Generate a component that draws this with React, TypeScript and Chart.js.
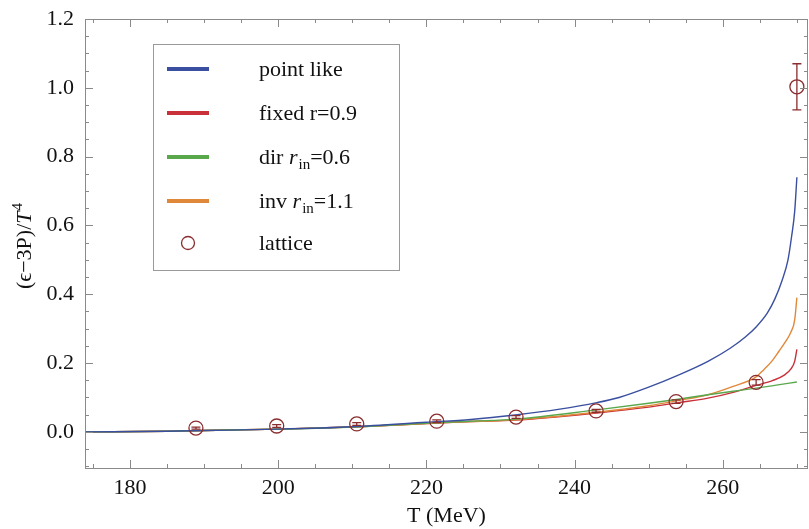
import React, { useEffect, useRef } from 'react';
import { Chart, registerables } from 'chart.js';

Chart.register(...registerables);

// ---- axis ranges & ticks ----
const X_MIN = 173.93;
const X_MAX = 271.5;
const Y_MIN = -0.105;
const Y_MAX = 1.2;
const xMajorTicks = [180, 200, 220, 240, 260];
const yMajorTicks = [0, 0.2, 0.4, 0.6, 0.8, 1.0, 1.2];
const xMinorStep = 5;
const yMinorStep = 0.05;

// ---- series ----
const tPointLike = [174, 185, 190, 200, 210, 220, 226, 232, 238, 243, 246, 250, 254, 258, 261, 263, 264.5, 266, 267, 268, 268.8, 269.3, 269.7, 270];
const pointLike = [0, 0.002, 0.004, 0.008, 0.015, 0.028, 0.036, 0.049, 0.066, 0.085, 0.1, 0.13, 0.165, 0.205, 0.243, 0.275, 0.305, 0.345, 0.385, 0.44, 0.5, 0.57, 0.64, 0.74];

const tFixed = [174, 185, 190, 200, 210, 220, 226, 232, 243, 250, 254, 258, 261.4, 264.5, 266.7, 268.3, 269.2, 269.7, 270];
const fixedR = [0, 0.002, 0.004, 0.008, 0.014, 0.024, 0.03, 0.034, 0.055, 0.072, 0.085, 0.098, 0.115, 0.135, 0.149, 0.165, 0.183, 0.205, 0.24];

const tDir = [174, 185, 190, 200, 210, 220, 226, 232, 243, 250, 254, 258, 261.4, 264.5, 267, 270];
const dirR = [0, 0.002, 0.004, 0.008, 0.014, 0.025, 0.031, 0.037, 0.064, 0.083, 0.095, 0.108, 0.118, 0.127, 0.135, 0.145];

const tInv = [174, 185, 190, 200, 210, 220, 226, 232, 243, 250, 254, 258, 261.4, 264.5, 265.5, 266.6, 267.6, 268.4, 269.2, 269.7, 270];
const invR = [0, 0.002, 0.004, 0.008, 0.014, 0.024, 0.03, 0.035, 0.057, 0.076, 0.091, 0.108, 0.132, 0.16, 0.18, 0.205, 0.235, 0.26, 0.29, 0.325, 0.39];

const latticeT = [188.9, 199.8, 210.6, 221.4, 232.1, 242.9, 253.7, 264.5, 270.0];
const latticeV = [0.011, 0.017, 0.023, 0.031, 0.043, 0.061, 0.088, 0.144, 1.003];
const latticeErr = [0.003, 0.004, 0.004, 0.004, 0.004, 0.004, 0.005, 0.008, 0.067];

const seriesNames = ['point like', 'fixed r=0.9', 'dir', 'inv', 'lattice'];
const colors = {
  blue: '#3a4f9f',
  red: '#c8303a',
  green: '#5aa84c',
  orange: '#e0883a',
  lattice: '#8b2c2e',
  frame: '#8a8a8a',
  text: '#111111',
};

const SERIF = '"Liberation Serif", "Times New Roman", "DejaVu Serif", serif';

const toXY = (xs: number[], ys: number[]) => xs.map((x, i) => ({ x, y: ys[i] }));

const framePlugin = {
  id: 'frameTicks',
  afterDraw(chart: any) {
    const { ctx, chartArea, scales } = chart;
    const { left, right, top, bottom } = chartArea;
    const xs = scales.x;
    const ys = scales.y;
    ctx.save();
    ctx.strokeStyle = colors.frame;
    ctx.lineWidth = 1;
    ctx.strokeRect(left + 0.5, top + 0.5, right - left - 1, bottom - top);
    ctx.beginPath();
    // x ticks (bottom & top)
    for (let v = Math.ceil(X_MIN / xMinorStep) * xMinorStep; v <= X_MAX; v += xMinorStep) {
      const px = Math.round(xs.getPixelForValue(v)) + 0.5;
      const major = Math.abs(v % 20) < 1e-6;
      const len = major ? 8 : 4;
      ctx.moveTo(px, bottom);
      ctx.lineTo(px, bottom - len);
      ctx.moveTo(px, top);
      ctx.lineTo(px, top + len);
    }
    // y ticks (left & right)
    for (let i = Math.ceil(Y_MIN / yMinorStep); i * yMinorStep <= Y_MAX + 1e-9; i++) {
      const v = i * yMinorStep;
      const py = Math.round(ys.getPixelForValue(v)) + 0.5;
      const major = i % 4 === 0;
      const len = major ? 8 : 4;
      ctx.moveTo(left, py);
      ctx.lineTo(left + len, py);
      ctx.moveTo(right, py);
      ctx.lineTo(right - len, py);
    }
    ctx.stroke();

    // axis titles
    ctx.fillStyle = colors.text;
    ctx.font = `22px ${SERIF}`;
    ctx.textAlign = 'center';
    ctx.textBaseline = 'alphabetic';
    ctx.fillText('T (MeV)', (left + right) / 2, 522);

    // y title (rotated, rich)
    ctx.save();
    ctx.translate(31, 246);
    ctx.rotate(-Math.PI / 2);
    const partA = '(ϵ−3P)/';
    const partT = 'T';
    const partSup = '4';
    ctx.font = `22px ${SERIF}`;
    const wA = ctx.measureText(partA).width;
    ctx.font = `italic 22px ${SERIF}`;
    const wT = ctx.measureText(partT).width;
    ctx.font = `15px ${SERIF}`;
    const wS = ctx.measureText(partSup).width;
    let x0 = -(wA + wT + wS + 1) / 2;
    ctx.textAlign = 'left';
    ctx.font = `22px ${SERIF}`;
    ctx.fillText(partA, x0, 0);
    x0 += wA;
    ctx.font = `italic 22px ${SERIF}`;
    ctx.fillText(partT, x0, 0);
    x0 += wT + 1;
    ctx.font = `15px ${SERIF}`;
    ctx.fillText(partSup, x0, -9);
    ctx.restore();

    // legend
    ctx.textAlign = 'left';
    ctx.strokeStyle = '#9a9a9a';
    ctx.lineWidth = 1;
    ctx.strokeRect(153.5, 44.5, 246, 226);
    const rows: { color: string; parts: { t: string; style: string }[] }[] = [
      { color: colors.blue, parts: [{ t: seriesNames[0], style: 'n' }] },
      { color: colors.red, parts: [{ t: seriesNames[1], style: 'n' }] },
      { color: colors.green, parts: [{ t: 'dir ', style: 'n' }, { t: 'r', style: 'i' }, { t: 'in', style: 's' }, { t: '=0.6', style: 'n' }] },
      { color: colors.orange, parts: [{ t: 'inv ', style: 'n' }, { t: 'r', style: 'i' }, { t: 'in', style: 's' }, { t: '=1.1', style: 'n' }] },
    ];
    const rowY = [69, 113, 157, 201, 243];
    rows.forEach((r, i) => {
      const y = rowY[i];
      ctx.strokeStyle = r.color;
      ctx.lineWidth = 4;
      ctx.beginPath();
      ctx.moveTo(167, y);
      ctx.lineTo(209, y);
      ctx.stroke();
      let tx = 259;
      ctx.fillStyle = colors.text;
      ctx.textBaseline = 'alphabetic';
      r.parts.forEach((p) => {
        let dy = 7;
        if (p.style === 'i') ctx.font = `italic 22px ${SERIF}`;
        else if (p.style === 's') { ctx.font = `15px ${SERIF}`; dy = 12; }
        else ctx.font = `22px ${SERIF}`;
        ctx.fillText(p.t, tx, y + dy);
        tx += ctx.measureText(p.t).width + (p.style === 'i' ? 1 : 0);
      });
    });
    // lattice legend marker
    ctx.strokeStyle = colors.lattice;
    ctx.lineWidth = 1.3;
    ctx.beginPath();
    ctx.arc(188, rowY[4], 6.5, 0, Math.PI * 2);
    ctx.stroke();
    ctx.fillStyle = colors.text;
    ctx.font = `22px ${SERIF}`;
    ctx.fillText(seriesNames[4], 259, rowY[4] + 7);
    ctx.restore();
  },
};

const errorBarPlugin = {
  id: 'latticeErrors',
  afterDatasetsDraw(chart: any) {
    const { ctx, scales } = chart;
    const xs = scales.x;
    const ys = scales.y;
    ctx.save();
    ctx.strokeStyle = colors.lattice;
    ctx.lineWidth = 1.3;
    ctx.beginPath();
    latticeT.forEach((t, i) => {
      const px = xs.getPixelForValue(t);
      const yHi = ys.getPixelForValue(latticeV[i] + latticeErr[i]);
      const yLo = ys.getPixelForValue(latticeV[i] - latticeErr[i]);
      ctx.moveTo(px, yHi);
      ctx.lineTo(px, yLo);
      ctx.moveTo(px - 4.5, yHi);
      ctx.lineTo(px + 4.5, yHi);
      ctx.moveTo(px - 4.5, yLo);
      ctx.lineTo(px + 4.5, yLo);
    });
    ctx.stroke();
    ctx.restore();
  },
};

export default function App() {
  const ref = useRef<HTMLCanvasElement>(null);
  useEffect(() => {
    if (!ref.current) return;
    const lineDs = (label: string, xs: number[], ys: number[], color: string) => ({
      type: 'line' as const,
      label,
      data: toXY(xs, ys),
      borderColor: color,
      backgroundColor: color,
      borderWidth: 1.4,
      pointRadius: 0,
      cubicInterpolationMode: 'monotone' as const,
      fill: false,
    });
    const chart = new Chart(ref.current, {
      type: 'line',
      data: {
        datasets: [
          {
            type: 'scatter' as const,
            label: seriesNames[4],
            data: toXY(latticeT, latticeV),
            borderColor: colors.lattice,
            backgroundColor: 'rgba(0,0,0,0)',
            borderWidth: 1.3,
            pointRadius: 7,
            pointStyle: 'circle',
            showLine: false,
          } as any,
          lineDs(seriesNames[0], tPointLike, pointLike, colors.blue),
          lineDs(seriesNames[2], tDir, dirR, colors.green),
          lineDs(seriesNames[3], tInv, invR, colors.orange),
          lineDs(seriesNames[1], tFixed, fixedR, colors.red),
        ],
      },
      options: {
        animation: false,
        responsive: false,
        devicePixelRatio: 1,
        layout: { autoPadding: false, padding: { top: 19, right: 1, left: 0, bottom: 0 } },
        plugins: { legend: { display: false }, tooltip: { enabled: false }, title: { display: false } },
        scales: {
          x: {
            type: 'linear',
            min: X_MIN,
            max: X_MAX,
            border: { display: false },
            grid: { display: false, drawTicks: false },
            afterBuildTicks: (s: any) => { s.ticks = xMajorTicks.map((v) => ({ value: v })); },
            afterFit: (s: any) => { s.height = 61; s.paddingLeft = 0; s.paddingRight = 0; },
            ticks: {
              padding: 7,
              color: colors.text,
              font: { family: SERIF, size: 22 },
              callback: (v: any) => String(v),
              maxRotation: 0,
              autoSkip: false,
            },
          },
          y: {
            type: 'linear',
            min: Y_MIN,
            max: Y_MAX,
            border: { display: false },
            grid: { display: false, drawTicks: false },
            afterBuildTicks: (s: any) => { s.ticks = yMajorTicks.map((v) => ({ value: v })); },
            afterFit: (s: any) => { s.width = 85; s.paddingTop = 0; s.paddingBottom = 0; },
            ticks: {
              padding: 11,
              color: colors.text,
              font: { family: SERIF, size: 22 },
              callback: (v: any) => Number(v).toFixed(1),
              autoSkip: false,
            },
          },
        },
      },
      plugins: [framePlugin, errorBarPlugin],
    });
    return () => chart.destroy();
  }, []);
  return (
    <div style={{ position: 'fixed', left: 0, top: 0, width: 809, height: 529, background: '#fff' }}>
      <canvas ref={ref} width={809} height={529} style={{ width: 809, height: 529, display: 'block' }} />
    </div>
  );
}
